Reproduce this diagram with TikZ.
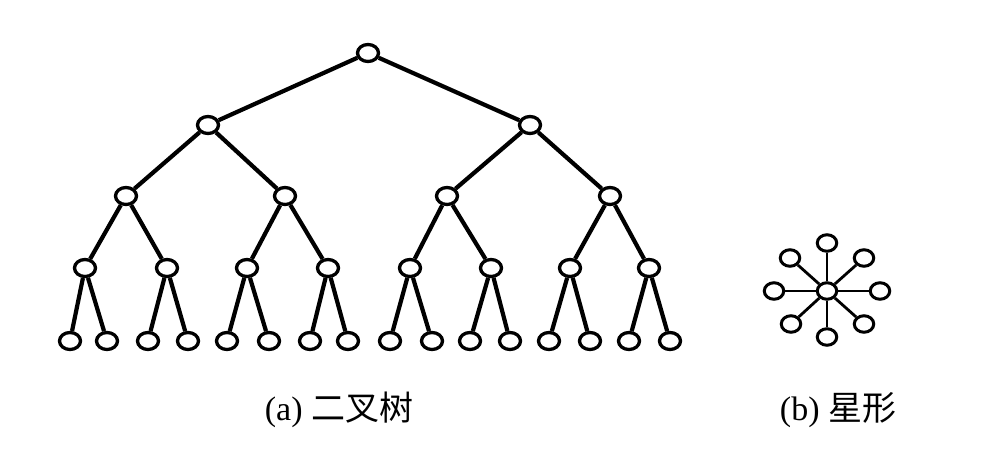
\documentclass[tikz,border=0pt]{standalone}
\usepackage{fontspec}
\setmainfont{Liberation Serif}
\newfontfamily\cjk{Noto Sans CJK SC}
\usetikzlibrary{shapes.geometric}
\begin{document}
\begin{tikzpicture}[x=1pt,y=-1pt,
  tn/.style={ellipse,draw,line width=3.3pt,fill=white,inner sep=0pt,minimum width=21pt,minimum height=17pt},
  sn/.style={ellipse,draw,line width=3pt,fill=white,inner sep=0pt,minimum width=19.5pt,minimum height=16.5pt},
  te/.style={line width=4.2pt},
  se/.style={line width=2.8pt},
  lab/.style={font=\fontsize{34}{38}\selectfont, inner sep=0pt}]
\useasboundingbox (0,0) rectangle (999,466);
% tree nodes
\node[tn] (r) at (368,53) {};
\node[tn] (a) at (208,125) {};
\node[tn] (b) at (530,125) {};
\node[tn] (a1) at (126,196) {};
\node[tn] (a2) at (285,196) {};
\node[tn] (b1) at (447,196) {};
\node[tn] (b2) at (610,196) {};
\node[tn] (c1) at (85,268) {};
\node[tn] (c2) at (167,268) {};
\node[tn] (c3) at (247,268) {};
\node[tn] (c4) at (328,268) {};
\node[tn] (c5) at (410,268) {};
\node[tn] (c6) at (491,268) {};
\node[tn] (c7) at (570,268) {};
\node[tn] (c8) at (649,268) {};
\foreach \i/\x in {1/70,2/107,3/148,4/188,5/227,6/269,7/310,8/348,9/390,10/432,11/470,12/510,13/549,14/590,15/629,16/670}
  \node[tn] (l\i) at (\x,341) {};
\draw[te] (r) -- (a) (r) -- (b)
  (a) -- (a1) (a) -- (a2) (b) -- (b1) (b) -- (b2)
  (a1) -- (c1) (a1) -- (c2) (a2) -- (c3) (a2) -- (c4)
  (b1) -- (c5) (b1) -- (c6) (b2) -- (c7) (b2) -- (c8)
  (c1) -- (l1) (c1) -- (l2) (c2) -- (l3) (c2) -- (l4)
  (c3) -- (l5) (c3) -- (l6) (c4) -- (l7) (c4) -- (l8)
  (c5) -- (l9) (c5) -- (l10) (c6) -- (l11) (c6) -- (l12)
  (c7) -- (l13) (c7) -- (l14) (c8) -- (l15) (c8) -- (l16);
% star
\node[sn] (s0) at (827,291) {};
\node[sn] (s1) at (827,243) {};
\node[sn] (s2) at (864,258) {};
\node[sn] (s3) at (880,291) {};
\node[sn] (s4) at (864,324) {};
\node[sn] (s5) at (827,337) {};
\node[sn] (s6) at (791,324) {};
\node[sn] (s7) at (774,291) {};
\node[sn] (s8) at (790,258) {};
\foreach \k in {1,...,8} \draw[se] (s0) -- (s\k);
% labels
\node[lab] (la) at (339,410) {(a) {\cjk 二叉树}};
\node[lab] (lb) at (838,410) {(b) {\cjk 星形}};
\end{tikzpicture}
\end{document}
